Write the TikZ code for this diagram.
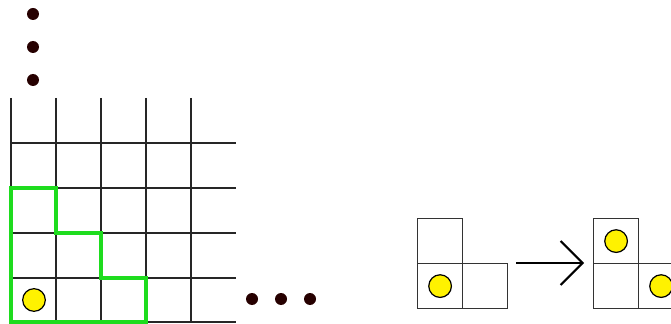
\documentclass[tikz,border=0pt]{standalone}
\usetikzlibrary{arrows.meta}
\begin{document}
\begin{tikzpicture}[x=0.75pt,y=-0.75pt,
  gridline/.style={line width=0.9pt,black!85},
  cellbox/.style={draw=black!80,line width=0.9pt,minimum size=33.75pt,inner sep=0pt,anchor=north west},
  token/.style={circle,draw=black,line width=0.9pt,fill=yellow,minimum size=17pt,inner sep=0pt},
  bigdot/.style={circle,fill=black!85!red,minimum size=9pt,inner sep=0pt},
  stair/.style={draw={rgb,255:red,30;green,220;blue,30},line width=3pt,line join=miter}]
\useasboundingbox (0,0) rectangle (671,324);
% vertical dots
\node[bigdot] (v1) at (33,14) {};
\node[bigdot] (v2) at (33,47) {};
\node[bigdot] (v3) at (33,80) {};
% grid
\foreach \x in {11,56,101,146,191} \draw[gridline] (\x,98) -- (\x,322);
\foreach \y in {143,188,233,278,322} \draw[gridline] (11,\y) -- (236,\y);
% staircase
\draw[stair] (11,188) -- (56,188) -- (56,233) -- (101,233) -- (101,278) -- (146,278) -- (146,322) -- (11,322) -- cycle;
\node[token] (t0) at (34,300) {};
% horizontal dots
\node[bigdot] (h1) at (252,299) {};
\node[bigdot] (h2) at (281,299) {};
\node[bigdot] (h3) at (310,299) {};
% left L
\node[cellbox] (a1) at (417,218) {};
\node[cellbox] (a2) at (417,263) {};
\node[cellbox] (a3) at (462,263) {};
\node[token] (ta) at (a2.center) {};
% arrow
\coordinate (s) at (516,263);
\coordinate (e) at (584,263);
\draw[line width=1.5pt,-{Straight Barb[length=16.5pt,width=33pt,line width=1.5pt]}] (s) -- (e);
% right L
\node[cellbox] (b1) at (593,218) {};
\node[cellbox] (b2) at (593,263) {};
\node[cellbox] (b3) at (638,263) {};
\node[token] (tb1) at (b1.center) {};
\node[token] (tb2) at (b3.center) {};
\end{tikzpicture}
\end{document}
